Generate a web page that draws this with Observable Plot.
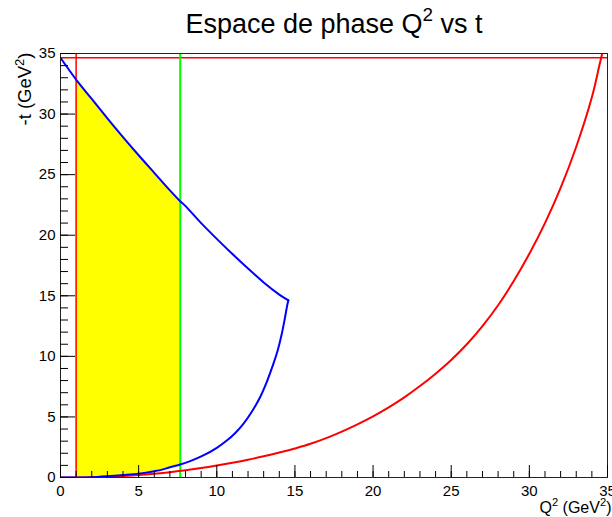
<!DOCTYPE html>
<html><head><meta charset="utf-8">
<script src="https://cdn.jsdelivr.net/npm/d3@7"></script>
<script src="https://cdn.jsdelivr.net/npm/@observablehq/plot@0.6"></script>
<style>body{margin:0;background:#fff}</style>
</head><body><div id="chart"></div>
<script>
// Upper blue boundary (Q², -t)
const upperQ2 = [0, 1, 2, 3, 4, 5, 6, 7, 7.66, 8, 9, 10, 11, 12, 13, 14, 14.58];
const upperT  = [34.65, 32.85, 31.25, 29.65, 28.1, 26.6, 25.15, 23.7, 22.8, 22.4, 21.0, 19.7, 18.45, 17.25, 16.1, 15.1, 14.62];
// Lower blue boundary (Q², -t)
const lowerQ2 = [0, 1, 2, 2.5, 3, 4, 5, 6, 6.5, 7, 7.66, 8.3, 9.14, 10, 10.64, 11.2, 11.7, 12.25, 12.77, 13.2, 13.62, 13.9, 14.16, 14.35, 14.52, 14.58];
const lowerT  = [0, 0, 0.02, 0.06, 0.1, 0.2, 0.32, 0.52, 0.65, 0.85, 1.07, 1.35, 1.82, 2.45, 3.05, 3.7, 4.43, 5.45, 6.63, 7.9, 9.38, 10.5, 11.86, 13.1, 14.3, 14.62];
// Red curve (Q², -t)
const redQ2 = [0, 2, 3, 4, 5, 6, 7, 8, 9, 10, 11, 12, 13, 14, 15, 16, 17, 18, 19, 20, 21, 22, 23, 24, 25, 26, 27, 28, 29, 30, 31, 32, 33, 34, 34.5, 34.66];
const redT  = [0, 0.02, 0.06, 0.12, 0.2, 0.31, 0.44, 0.6, 0.78, 0.99, 1.22, 1.47, 1.75, 2.06, 2.4, 2.78, 3.25, 3.79, 4.39, 5.05, 5.79, 6.62, 7.55, 8.57, 9.7, 11.0, 12.5, 14.22, 16.22, 18.47, 21.0, 23.9, 27.3, 31.38, 34.13, 35];
// Cuts
const q2Min = 1.0;
const q2Max = 7.66;
const tMaxLine = 34.65;
// Axis ticks
const majorTicks = [0, 5, 10, 15, 20, 25, 30, 35];
const minorTicks = d3.range(0, 36, 1);

const titleText = "Espace de phase Q² vs t";
const xTitle = "Q² (GeV²)";
const yTitle = "-t (GeV²)";

const upper = upperQ2.map((q, i) => ({q, t: upperT[i]}));
const lower = lowerQ2.map((q, i) => ({q, t: lowerT[i]}));
const red = redQ2.map((q, i) => ({q, t: redT[i]}));
const inCut = d => d.q >= q2Min && d.q <= q2Max;

const chart = Plot.plot({
  width: 612, height: 517,
  marginLeft: 60, marginRight: 5, marginTop: 53, marginBottom: 40,
  style: {fontFamily: "'Liberation Sans', Arial, sans-serif", fontSize: "15px", background: "white", color: "black"},
  x: {domain: [0, 35], axis: null},
  y: {domain: [0, 35], axis: null},
  marks: [
    // yellow band between the two blue boundaries, within the Q² cuts
    Plot.areaY(upper.filter(inCut), {x: "q", y1: 0, y2: "t", fill: "#ffff00", curve: "catmull-rom"}),
    Plot.areaY(lower.filter(inCut), {x: "q", y1: 0, y2: "t", fill: "white", curve: "catmull-rom"}),
    Plot.ruleY([tMaxLine], {stroke: "#ff0000", strokeWidth: 1.5}),
    Plot.ruleX([q2Min], {stroke: "#ff0000", strokeWidth: 1.5}),
    Plot.ruleX([q2Max], {stroke: "#00ff00", strokeWidth: 2}),
    Plot.line(red, {x: "q", y: "t", stroke: "#ff0000", strokeWidth: 2, curve: "catmull-rom", clip: true}),
    Plot.line(upper, {x: "q", y: "t", stroke: "#0000ff", strokeWidth: 2, curve: "catmull-rom", clip: true}),
    Plot.line(lower, {x: "q", y: "t", stroke: "#0000ff", strokeWidth: 2, curve: "catmull-rom", clip: true}),
    Plot.frame({stroke: "#222"}),
    Plot.axisX({ticks: minorTicks, tickSize: -6, tickFormat: () => "", label: null}),
    Plot.axisX({ticks: majorTicks, tickSize: -12, tickFormat: () => "", label: null}),
    Plot.axisX({ticks: majorTicks, tickSize: 0, tickPadding: 8, tickFormat: d => String(d), label: null, fontSize: 15}),
    Plot.axisY({ticks: minorTicks, tickSize: -8, tickFormat: () => "", label: null}),
    Plot.axisY({ticks: majorTicks, tickSize: -15, tickFormat: () => "", label: null}),
    Plot.axisY({ticks: majorTicks, tickSize: 0, tickPadding: 5, tickFormat: d => String(d), label: null, fontSize: 15}),
    Plot.text([titleText], {frameAnchor: "top", dy: -21, lineAnchor: "bottom", fontSize: 27}),
    Plot.text([xTitle], {frameAnchor: "bottom-right", textAnchor: "end", lineAnchor: "bottom", dx: 4, dy: 35, fontSize: 16}),
    Plot.text([yTitle], {frameAnchor: "top-left", textAnchor: "end", lineAnchor: "middle", rotate: -90, dx: -35, dy: -1, fontSize: 18.5})
  ]
});
document.getElementById("chart").appendChild(chart);

// Render "²" as a real superscript (ROOT style)
const NS = "http://www.w3.org/2000/svg";
chart.querySelectorAll("text").forEach(el => {
  const s = el.textContent;
  if (!s.includes("²") || el.querySelector("tspan")) return;
  const fs = parseFloat(getComputedStyle(el).fontSize);
  const raise = 0.42 * fs;
  el.textContent = "";
  const parts = s.split("²");
  parts.forEach((p, i) => {
    if (i > 0) {
      const sup = document.createElementNS(NS, "tspan");
      sup.textContent = "2";
      sup.setAttribute("font-size", (0.7 * fs) + "px");
      sup.setAttribute("dy", (-raise) + "px");
      el.appendChild(sup);
    }
    if (p) {
      const t = document.createElementNS(NS, "tspan");
      t.textContent = p;
      if (i > 0) t.setAttribute("dy", raise + "px");
      el.appendChild(t);
    } else if (i > 0) {
      const t = document.createElementNS(NS, "tspan");
      t.textContent = "\u200B";
      t.setAttribute("dy", raise + "px");
      el.appendChild(t);
    }
  });
});
</script>
</body></html>
